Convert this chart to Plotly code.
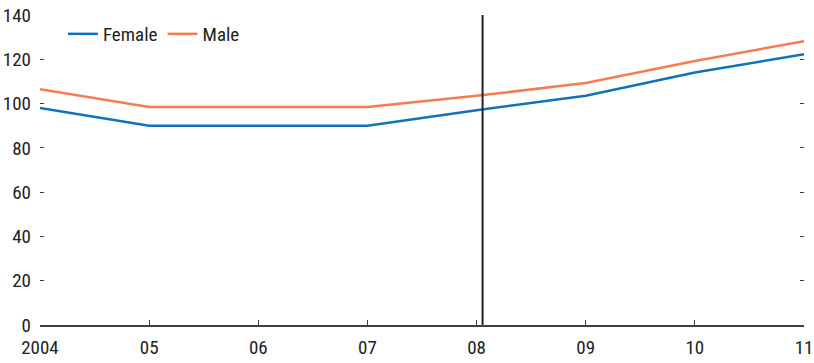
import plotly.graph_objects as go

years = [2004, 2005, 2006, 2007, 2008, 2009, 2010, 2011]
tick_labels = ["2004", "05", "06", "07", "08", "09", "10", "11"]
female = [98, 90, 90, 90, 97, 103.5, 114, 122.3]
male = [106.5, 98.5, 98.5, 98.5, 103.5, 109.3, 119.2, 128.2]
marker_year = 2008.055

FONT = "Roboto Condensed, Liberation Sans Narrow, Arial Narrow, sans-serif"
BLUE = "#0f72bb"
ORANGE = "#f47b52"
AXIS = "#404040"

fig = go.Figure()
fig.add_trace(go.Scatter(x=years, y=female, mode="lines", name="Female",
                         line=dict(color=BLUE, width=2.5)))
fig.add_trace(go.Scatter(x=years, y=male, mode="lines", name="Male",
                         line=dict(color=ORANGE, width=2.5)))

fig.add_shape(type="line", x0=marker_year, x1=marker_year, y0=0, y1=140,
              xref="x", yref="y", line=dict(color="#222222", width=2))

fig.update_layout(
    width=814, height=363,
    margin=dict(l=40, r=10, t=15, b=38),
    paper_bgcolor="white", plot_bgcolor="white",
    font=dict(family=FONT, size=19, color="#222222"),
    showlegend=True,
    legend=dict(orientation="h", x=0.03, y=1.0, xanchor="left", yanchor="top",
                bgcolor="rgba(0,0,0,0)", font=dict(size=19), itemwidth=30,
                borderwidth=0),
    xaxis=dict(range=[2004, 2011], tickvals=years, ticktext=tick_labels,
               ticks="inside", ticklen=5, tickwidth=1, tickcolor=AXIS,
               showline=True, linecolor=AXIS, linewidth=2, showgrid=False,
               zeroline=False, automargin=False, ticklabelstandoff=4),
    yaxis=dict(range=[0, 140], tickvals=[0, 20, 40, 60, 80, 100, 120, 140],
               ticks="inside", ticklen=4, tickwidth=1, tickcolor=AXIS,
               mirror="ticks", showline=False, showgrid=False, zeroline=False,
               automargin=False, ticklabelstandoff=8),
)

fig.write_html("out.html")
